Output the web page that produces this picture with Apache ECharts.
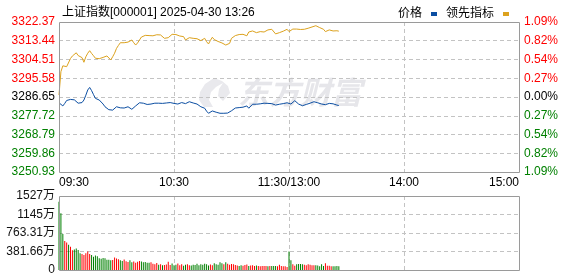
<!DOCTYPE html>
<html><head><meta charset="utf-8">
<script src="https://cdn.jsdelivr.net/npm/echarts@6/dist/echarts.min.js"></script>
<style>html,body{margin:0;padding:0;background:#fff}#c{width:578px;height:276px}</style>
</head><body><div id="c"></div>
<script>
const titleText = '上证指数[000001] 2025-04-30 13:26';
const seriesNames = ['价格', '领先指标'];
const timeLabels = ['09:30', '10:30', '11:30/13:00', '14:00', '15:00'];
const priceLabels = ['3250.93','3259.86','3268.79','3277.72','3286.65','3295.58','3304.51','3313.44','3322.37'];
const pctLabels = ['1.09%','0.82%','0.54%','0.27%','0.00%','0.27%','0.54%','0.82%','1.09%'];
const volLabels = ['0','381.66万','763.31万','1145万','1527万'];
const prevClose = 3286.65;
const priceMin = 3250.93;
const priceMax = 3322.37;
const volMax = 1527;
const totalMinutes = 240;

const price = [
3283.9,3283.0,3282.4,3283.6,3285.0,3284.6,3285.5,3286.0,3285.3,3284.4,
3283.7,3283.0,3284.0,3285.2,3287.5,3290.0,3291.2,3289.7,3287.8,3286.0,
3285.8,3285.2,3284.6,3283.3,3282.0,3281.6,3280.6,3279.7,3280.4,3281.2,
3282.0,3282.4,3281.5,3280.8,3281.4,3281.6,3282.0,3281.2,3280.8,3281.6,
3282.4,3283.0,3283.9,3283.8,3283.7,3283.6,3283.1,3282.8,3283.3,3283.7,
3283.7,3283.8,3283.7,3283.7,3283.6,3283.7,3283.8,3283.9,3284.0,3283.9,
3283.6,3283.2,3283.3,3283.8,3284.0,3283.7,3283.5,3284.0,3284.4,3284.2,
3283.8,3283.6,3283.3,3282.8,3282.0,3281.6,3281.3,3279.9,3278.9,3279.6,
3280.0,3279.7,3279.4,3279.2,3278.9,3278.8,3278.9,3278.7,3279.0,3279.6,
3280.1,3280.8,3281.4,3282.0,3281.6,3281.3,3281.8,3282.2,3282.4,3281.3,
3282.0,3283.2,3283.4,3283.2,3283.3,3283.4,3283.6,3283.7,3283.7,3283.6,
3283.7,3283.5,3283.1,3282.8,3283.0,3283.2,3283.3,3283.5,3283.7,3283.9,
3283.7,3283.3,3284.0,3284.9,3284.2,3283.3,3282.9,3282.5,3282.8,3283.1,
3283.3,3283.7,3284.0,3284.4,3284.1,3283.9,3283.7,3283.3,3282.8,3283.0,
3283.4,3283.6,3283.7,3283.4,3283.2,3282.8,3282.6
];
const lead = [
3287.6,3298.7,3301.5,3302.2,3301.1,3301.9,3305.0,3306.2,3307.0,3307.7,
3306.4,3305.6,3305.4,3303.2,3305.8,3307.5,3308.7,3307.4,3306.3,3305.1,
3304.3,3304.9,3305.8,3305.5,3305.4,3306.2,3306.7,3304.3,3305.8,3307.5,
3309.8,3311.2,3312.5,3312.6,3312.5,3312.7,3312.8,3313.0,3313.8,3312.5,
3311.4,3312.4,3313.3,3315.2,3315.8,3316.0,3316.2,3315.9,3315.4,3315.8,
3316.5,3316.3,3316.2,3316.2,3315.3,3314.6,3314.7,3314.9,3315.8,3316.5,
3317.0,3316.4,3315.9,3315.7,3315.6,3315.4,3313.8,3314.5,3314.9,3314.8,
3314.6,3314.5,3314.4,3314.3,3313.5,3313.3,3314.6,3313.0,3311.9,3313.6,
3315.1,3314.0,3313.3,3313.1,3313.0,3312.4,3311.8,3311.4,3311.7,3312.2,
3314.6,3315.4,3315.9,3316.5,3316.4,3316.5,3316.5,3316.0,3315.8,3317.6,
3317.9,3318.1,3317.6,3317.3,3317.7,3317.8,3317.0,3317.6,3318.2,3318.6,
3318.7,3318.9,3318.3,3316.7,3317.0,3317.3,3317.6,3318.0,3318.4,3318.9,
3317.8,3318.4,3319.0,3319.4,3319.0,3318.6,3318.8,3318.9,3318.9,3318.9,
3319.4,3319.8,3320.0,3320.3,3320.6,3320.2,3319.7,3319.2,3318.9,3317.8,
3318.2,3318.6,3318.4,3318.1,3318.3,3318.2,3318.0
];
const volume = [
1410,1170,743,600,565,520,480,410,425,445,
415,345,330,310,345,380,330,310,275,300,
285,240,230,250,240,210,210,200,205,260,
235,220,200,185,215,180,165,200,160,175,
150,170,185,175,160,165,150,150,160,130,
120,145,110,120,100,105,115,170,105,135,
100,110,135,100,120,90,110,120,100,95,
110,105,130,100,120,110,130,120,95,115,
100,140,120,110,160,140,120,160,130,110,
125,120,105,95,80,100,90,105,115,80,
95,100,80,95,85,75,80,80,80,75,
80,85,80,80,75,110,80,75,75,60,
380,200,120,90,120,125,125,120,110,100,
120,110,100,100,100,95,75,120,80,140,
90,90,75,75,75,80,75
];

const RED = '#ff0000', GREEN = '#008000', BLUE = '#0b4ea2', ORANGE = '#dca21e';
const NUM_FONT = "'Liberation Sans', 'Noto Sans CJK SC', sans-serif";
const CJK_FONT = "'Liberation Sans', 'Noto Sans CJK SC', sans-serif";
const dashLine = { color: '#c3c3c3', type: [4, 3], width: 1 };
const xSplit = () => ({ show: true, showMinLine: false, showMaxLine: false, lineStyle: dashLine });
const mid = (priceLabels.length - 1) / 2;
const sideColor = (v) => { const n = Number(v); return n > mid ? RED : (n < mid ? GREEN : '#000'); };
const borderStyle = { fill: 'none', stroke: '#9a9a9a', lineWidth: 1 };
const innerValues = (labels) => labels.slice(1, -1).map((s) => parseFloat(s));

const chart = echarts.init(document.getElementById('c'), null, { renderer: 'canvas' });
chart.setOption({
  animation: false,
  backgroundColor: '#fff',
  title: { text: titleText, left: 57, top: 2, textStyle: { fontSize: 12, fontWeight: 'normal', color: '#000', fontFamily: CJK_FONT } },
  legend: {
    data: seriesNames, right: 64, top: 3, align: 'right', icon: 'rect', itemWidth: 6, itemHeight: 4, itemGap: 9,
    textStyle: { fontSize: 12, color: '#000', fontFamily: CJK_FONT, padding: [0, 4, 0, 0] }
  },
  graphic: [
    { type: 'polygon', z: -10, silent: true,
      shape: { points: [[214,78],[205,84],[200,92],[199,100],[204,107],[213,107],[209,100],[211,92],[216,87],[223,83],[219,89],[218,96],[223,101],[230,93],[228,86],[222,81]] },
      style: { fill: '#e9e9ed' } },
    { type: 'text', z: -10, silent: true, left: 238, top: 77, style: { text: '东方财富', fill: '#e6e6ea', font: "italic bold 31px 'Noto Sans CJK SC'" } },
    { type: 'rect', z: 50, silent: true, shape: { x: 59.5, y: 22.5, width: 460, height: 150 }, style: borderStyle },
    { type: 'rect', z: 50, silent: true, shape: { x: 59.5, y: 196.5, width: 460, height: 74 }, style: borderStyle }
  ],
  grid: [
    { left: 59, top: 22, width: 460, height: 150, show: false },
    { left: 59, top: 196, width: 460, height: 74, show: false }
  ],
  xAxis: [
    { type: 'value', gridIndex: 0, min: 0, max: totalMinutes, interval: 60,
      axisLine: { show: false }, axisTick: { show: false }, splitLine: xSplit(),
      axisLabel: { margin: 5, color: '#000', fontSize: 12, fontFamily: NUM_FONT, alignMinLabel: 'left', alignMaxLabel: 'right',
        formatter: (v) => timeLabels[Math.round(v / 60)] } },
    { type: 'value', gridIndex: 1, min: 0, max: totalMinutes, interval: 60,
      axisLine: { show: false }, axisTick: { show: false }, splitLine: xSplit(), axisLabel: { show: false } }
  ],
  yAxis: [
    { type: 'value', gridIndex: 0, position: 'left', min: 0, max: priceLabels.length - 1, interval: 1,
      axisLine: { show: false }, axisTick: { show: false }, splitLine: { show: false },
      axisLabel: { margin: 4, fontSize: 12, fontFamily: NUM_FONT, color: sideColor, formatter: (v) => priceLabels[v] } },
    { type: 'value', gridIndex: 0, position: 'right', min: 0, max: pctLabels.length - 1, interval: 1,
      axisLine: { show: false }, axisTick: { show: false }, splitLine: { show: false },
      axisLabel: { margin: 5, fontSize: 12, fontFamily: NUM_FONT, color: sideColor, formatter: (v) => pctLabels[v] } },
    { type: 'value', gridIndex: 0, position: 'left', min: priceMin, max: priceMax,
      axisLine: { show: false }, axisLabel: { show: false },
      axisTick: { show: false, customValues: innerValues(priceLabels) },
      splitLine: { show: true, lineStyle: dashLine } },
    { type: 'value', gridIndex: 1, position: 'left', min: 0, max: volLabels.length - 1, interval: 1,
      axisLine: { show: false }, axisTick: { show: false }, splitLine: { show: false },
      axisLabel: { margin: 4, fontSize: 12, fontFamily: CJK_FONT, color: '#111', formatter: (v) => volLabels[v] } },
    { type: 'value', gridIndex: 1, position: 'left', min: 0, max: volMax,
      axisLine: { show: false }, axisLabel: { show: false },
      axisTick: { show: false, customValues: innerValues(volLabels) },
      splitLine: { show: true, lineStyle: dashLine } }
  ],
  series: [
    { name: seriesNames[0], type: 'line', xAxisIndex: 0, yAxisIndex: 2, showSymbol: false, z: 4,
      data: price.map((v, i) => [i, v]), color: BLUE, lineStyle: { width: 1, color: BLUE } },
    { name: seriesNames[1], type: 'line', xAxisIndex: 0, yAxisIndex: 2, showSymbol: false, z: 3,
      data: lead.map((v, i) => [i, v]), color: ORANGE, lineStyle: { width: 1, color: ORANGE } },
    { name: '成交量', type: 'bar', xAxisIndex: 1, yAxisIndex: 4, barWidth: 1,
      data: volume.map((v, i) => ({ value: [i, v], itemStyle: { color: price[i] >= (i ? price[i - 1] : prevClose) ? RED : GREEN } })) }
  ]
});
</script>
</body></html>
